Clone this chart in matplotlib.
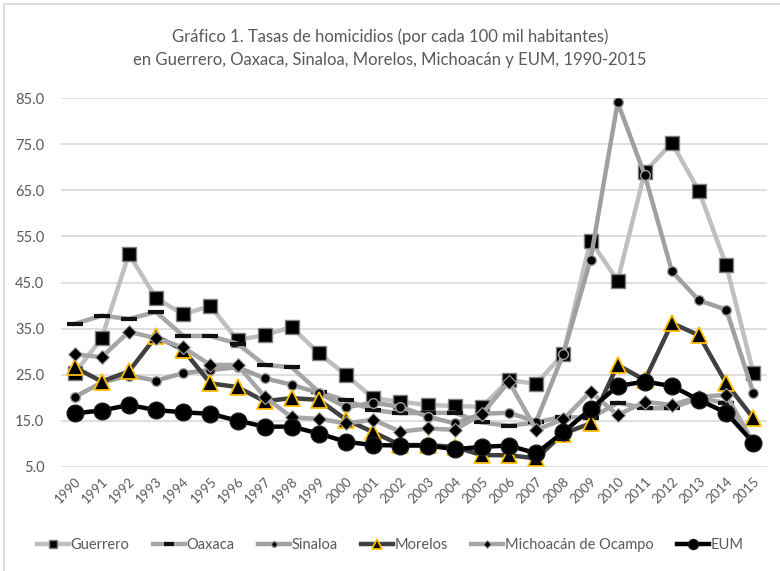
import matplotlib.pyplot as plt
from matplotlib.patches import Rectangle

years = [str(y) for y in range(1990, 2016)]

guerrero = [25.3, 32.9, 51.2, 41.6, 38.1, 39.9, 32.5, 33.6, 35.3, 29.6, 24.9, 19.9, 19.1,
            18.4, 18.2, 18.0, 23.8, 23.0, 29.5, 54.1, 45.4, 69.0, 75.3, 64.8, 48.7, 25.3]
oaxaca = [36.0, 37.8, 37.1, 38.6, 33.4, 33.4, 31.7, 27.1, 26.6, 21.2, 19.4, 17.3, 16.6,
          16.7, 16.7, 14.6, 13.9, 14.6, 15.9, 15.5, 18.9, 17.7, 17.7, 19.9, 18.8, 9.9]
sinaloa = [20.1, 23.3, 24.8, 23.7, 25.3, 26.0, 26.6, 24.2, 22.8, 21.0, 17.9, 18.9, 18.0,
           15.9, 14.4, 16.5, 16.7, 14.8, 29.5, 49.9, 84.1, 68.3, 47.4, 41.1, 39.1, 21.0]
morelos = [26.6, 23.5, 25.7, 33.3, 30.4, 23.1, 22.3, 19.2, 19.9, 19.5, 15.2, 12.5, 9.7,
           9.7, 9.3, 7.5, 7.5, 6.8, 12.2, 14.4, 27.1, 23.8, 36.2, 33.5, 23.1, 15.5]
michoacan = [29.4, 28.8, 34.3, 32.9, 30.9, 27.1, 27.1, 20.2, 15.7, 15.4, 14.4, 15.2, 12.6,
             13.3, 13.0, 16.4, 23.5, 13.0, 15.3, 21.3, 16.2, 19.1, 18.4, 20.2, 20.6, 10.1]
eum = [16.6, 17.2, 18.4, 17.3, 16.8, 16.5, 15.0, 13.7, 13.7, 12.2, 10.4, 9.7, 9.6,
       9.6, 8.8, 9.3, 9.6, 7.9, 12.5, 17.5, 22.5, 23.5, 22.5, 19.5, 16.7, 10.2]

yticks = [5, 15, 25, 35, 45, 55, 65, 75, 85]

plt.rcParams['font.family'] = ['Lato', 'DejaVu Sans']
txt = '#595959'

fig = plt.figure(figsize=(7.8, 5.71), dpi=100)
ax = fig.add_axes([61 / 780, 1 - 466.7 / 571, 706 / 780, 368.4 / 571])

x = list(range(len(years)))
ax.plot(x, guerrero, color='#bfbfbf', lw=3.2, marker='s', ms=10.5,
        mfc='black', mec='#7f7f7f', mew=1, label='Guerrero', zorder=2)
ax.plot(x, oaxaca, color='#a6a6a6', lw=3.2, marker='_', ms=11,
        mec='#111111', mew=3, label='Oaxaca', zorder=3)
ax.plot(x, sinaloa, color='#a0a0a0', lw=3.2, marker='o', ms=7,
        mfc='black', mec='#a0a0a0', mew=1, label='Sinaloa', zorder=4)
ax.plot(x, morelos, color='#404040', lw=3.2, marker='^', ms=12,
        mfc='black', mec='#ffc000', mew=1.3, label='Morelos', zorder=5)
ax.plot(x, michoacan, color='#a6a6a6', lw=3.2, marker='D', ms=7,
        mfc='black', mec='#a6a6a6', mew=0.8, label='Michoacán de Ocampo', zorder=6)
ax.plot(x, eum, color='black', lw=3.2, marker='o', ms=12,
        mfc='black', mec='#1a1a1a', mew=1, label='EUM', zorder=7)

ax.set_xlim(-0.5, len(years) - 0.5)
ax.set_ylim(5, 85)
ax.set_yticks(yticks)
ax.set_yticklabels([f'{v:.1f}' for v in yticks], color=txt, fontsize=10.5)
ax.set_xticks(x)
ax.set_xticklabels(years, rotation=45, ha='right', rotation_mode='anchor',
                   color=txt, fontsize=9.5)
ax.tick_params(axis='both', length=0)
ax.tick_params(axis='y', pad=12)
ax.tick_params(axis='x', pad=6)
ax.grid(axis='y', color='#d9d9d9', lw=1.2, zorder=0)
ax.set_axisbelow(True)
for s in ax.spines.values():
    s.set_visible(False)

fig.text(0.5, 1 - 37 / 571, 'Gráfico 1. Tasas de homicidios (por cada 100 mil habitantes)',
         ha='center', va='center', fontsize=12, color=txt)
fig.text(0.5, 1 - 60 / 571, 'en Guerrero, Oaxaca, Sinaloa, Morelos, Michoacán y EUM, 1990-2015',
         ha='center', va='center', fontsize=12, color=txt)

leg = fig.legend(loc='center', bbox_to_anchor=(0.5, 1 - 545 / 571), ncol=6,
                 frameon=False, fontsize=10.5, markerscale=0.6, handlelength=2.2,
                 handletextpad=0.1, columnspacing=1.6)
for t in leg.get_texts():
    t.set_color(txt)

fig.patches.append(Rectangle((4 / 780, -0.01), 1.0, 1 - 4 / 571 + 0.01,
                             transform=fig.transFigure, fill=False,
                             ec='#d9d9d9', lw=1.2))

fig.savefig('out.png', dpi=100)
